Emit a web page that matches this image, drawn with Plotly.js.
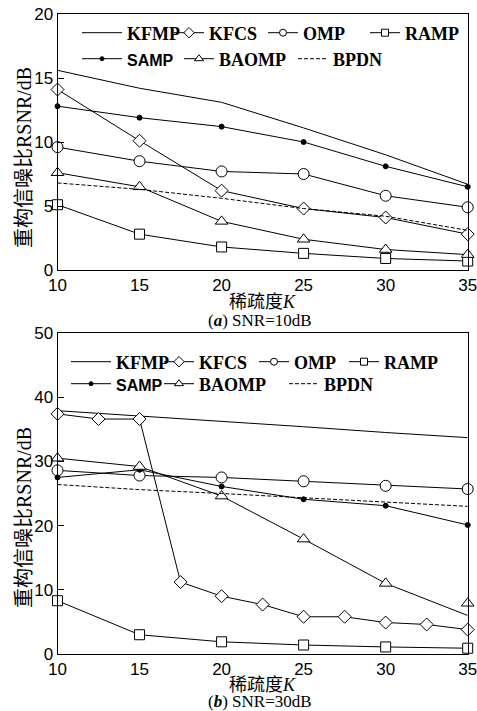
<!DOCTYPE html>
<html>
<head>
<meta charset="utf-8">
<script src="https://cdn.plot.ly/plotly-3.0.1.min.js"></script>
<style>html,body{margin:0;padding:0;background:#fff;}#chart{width:477px;height:711px;}</style>
</head>
<body>
<div id="chart"></div>
<script>
// ---- data ----
const K = [10, 15, 20, 25, 30, 35];
const K_fine = [10, 12.5, 15, 17.5, 20, 22.5, 25, 27.5, 30, 32.5, 35];

// (a) SNR=10dB
const a_KFMP  = [15.6, 14.2, 13.1, 11.1, 9.0, 6.7];
const a_KFCS  = [14.1, 10.1, 6.2, 4.8, 4.1, 2.8];
const a_OMP   = [9.6, 8.5, 7.7, 7.5, 5.8, 4.9];
const a_RAMP  = [5.1, 2.8, 1.8, 1.3, 0.9, 0.7];
const a_SAMP  = [12.8, 11.9, 11.2, 10.0, 8.1, 6.5];
const a_BAOMP = [7.6, 6.5, 3.8, 2.4, 1.6, 1.2];
const a_BPDN  = [6.8, 6.3, 5.6, 4.8, 4.2, 3.1];

// (b) SNR=30dB
const b_KFMP  = [37.9, 37.1, 36.2, 35.4, 34.5, 33.7];
const b_KFCS  = [37.4, 36.6, 36.6, 11.2, 9.0, 7.7, 5.8, 5.8, 4.9, 4.6, 3.8];
const b_OMP   = [28.6, 27.8, 27.5, 26.9, 26.2, 25.7];
const b_RAMP  = [8.3, 3.0, 1.9, 1.4, 1.1, 0.9];
const b_SAMP  = [27.5, 28.7, 26.1, 24.1, 23.1, 20.1];
const b_BAOMP_line   = [30.5, 29.2, 24.6, 17.9, 11.0, 6.0];
const b_BAOMP_marker = [30.5, 29.2, 24.6, 17.9, 11.0, 7.9];
const b_BPDN  = [26.4, 25.6, 25.0, 24.3, 23.6, 23.0];

const names = ['KFMP', 'KFCS', 'OMP', 'RAMP', 'SAMP', 'BAOMP', 'BPDN'];
const xTicks = [10, 15, 20, 25, 30, 35];
const yTicksA = [0, 5, 10, 15, 20];
const yTicksB = [0, 10, 20, 30, 40, 50];

// ---- styling ----
const BLK = '#000';
const LW = 1;
const SERIF = '"Liberation Serif", "Times New Roman", serif';
const SANS = '"Liberation Sans", Arial, sans-serif';
const CJK = '"Noto Sans CJK SC", sans-serif';

const symbols = {KFMP: null, KFCS: 'diamond', OMP: 'circle', RAMP: 'square', SAMP: 'circle', BAOMP: 'triangle-up', BPDN: null};
const sizes = {KFCS: 10, OMP: 11, RAMP: 10, SAMP: 5, BAOMP: 11};
const legSizes = {KFCS: 8, OMP: 7, RAMP: 7, SAMP: 4, BAOMP: 8};

function legName(n) {
  if (n === 'SAMP') return '<b><span style="font-family:' + "'Liberation Sans'" + ';font-size:16px">' + n + '</span></b>';
  return '<b>' + n + '</b>';
}

function tr(x, y, name, xa, ya, leg, extra, msize) {
  const sym = symbols[name];
  const t = {
    x: x, y: y, name: legName(name), type: 'scatter',
    xaxis: xa, yaxis: ya, legend: leg, cliponaxis: false,
    mode: sym ? 'lines+markers' : 'lines',
    line: {color: BLK, width: LW},
  };
  if (name === 'BPDN') t.line.dash = '4px,2px';
  if (sym) {
    const filled = name === 'SAMP';
    t.marker = {symbol: sym, size: msize || sizes[name], color: filled ? BLK : '#fff',
                line: {color: BLK, width: 1}};
  }
  return Object.assign(t, extra || {});
}

const traces = [];
function addSet(x, xfine, d, xa, ya, legs) {
  const noLeg = {showlegend: false};
  traces.push(tr(x, d.KFMP, 'KFMP', xa, ya, legs[0], noLeg));
  traces.push(tr(xfine, d.KFCS, 'KFCS', xa, ya, legs[1], noLeg));
  traces.push(tr(x, d.OMP, 'OMP', xa, ya, legs[2], noLeg));
  traces.push(tr(x, d.RAMP, 'RAMP', xa, ya, legs[3], noLeg));
  traces.push(tr(x, d.SAMP, 'SAMP', xa, ya, legs[4], noLeg));
  if (d.BAOMPm) {
    traces.push(tr(x, d.BAOMP, 'BAOMP', xa, ya, legs[5], {mode: 'lines', showlegend: false}));
    traces.push(tr(x, d.BAOMPm, 'BAOMP', xa, ya, legs[5], {mode: 'markers', showlegend: false}));
  } else {
    traces.push(tr(x, d.BAOMP, 'BAOMP', xa, ya, legs[5], noLeg));
  }
  traces.push(tr(x, d.BPDN, 'BPDN', xa, ya, legs[6], noLeg));
  // legend entries (smaller symbols, as in the reference legend)
  names.forEach((n, i) => {
    traces.push(tr([null], [null], n, xa, ya, legs[i], {showlegend: true}, legSizes[n]));
  });
}
const legsA = ['legend', 'legend2', 'legend3', 'legend4', 'legend5', 'legend6', 'legend7'];
const legsB = ['legend8', 'legend9', 'legend10', 'legend11', 'legend12', 'legend13', 'legend14'];
addSet(K, K, {KFMP: a_KFMP, KFCS: a_KFCS, OMP: a_OMP, RAMP: a_RAMP, SAMP: a_SAMP, BAOMP: a_BAOMP, BPDN: a_BPDN},
       'x', 'y', legsA);
addSet(K, K_fine, {KFMP: b_KFMP, KFCS: b_KFCS, OMP: b_OMP, RAMP: b_RAMP, SAMP: b_SAMP, BAOMP: b_BAOMP_line, BAOMPm: b_BAOMP_marker, BPDN: b_BPDN},
       'x2', 'y2', legsB);

const W = 477, H = 711;
const px = v => v / W;
const py = v => 1 - v / H;

const tickFont = {family: SANS, size: 17, color: BLK};
function xAxis(anchor) {
  return {domain: [px(57.5), px(467.7)], range: [10, 35], anchor: anchor,
    tickvals: xTicks, ticks: '', showgrid: false, zeroline: false,
    showline: true, mirror: true, linecolor: BLK, linewidth: 1,
    tickfont: tickFont, ticklabeloverflow: 'allow'};
}
function yAxis(anchor, dom, range, tv) {
  return {domain: dom, range: range, anchor: anchor, tickvals: tv,
    ticks: 'inside', ticklen: 6, tickcolor: BLK, showgrid: false, zeroline: false,
    showline: true, mirror: true, linecolor: BLK, linewidth: 1,
    tickfont: tickFont, ticklabeloverflow: 'allow'};
}

// legend entry placement: text start x (px), row centre y (px), itemwidth
const legPos = [
  [127, 33, 40], [209, 33, 30], [303, 33, 30], [405, 33, 30],
  [127, 59, 40], [219, 59, 30], [333, 59, 30],
  [116, 362, 40], [199, 362, 30], [294, 362, 30], [384, 362, 30],
  [116, 384, 40], [199, 384, 30], [324, 384, 30],
];
function legend(p) {
  return {orientation: 'h', x: px(p[0] - (p[2] + 10)), y: py(p[1]), xanchor: 'left', yanchor: 'middle',
    bgcolor: 'rgba(0,0,0,0)', borderwidth: 0, font: {family: SERIF, size: 18, color: BLK},
    itemwidth: p[2], itemsizing: 'trace'};
}

const ytitle = '重构信噪比<span style="font-family:' + "'Liberation Serif'" + '">RSNR/dB</span>';
const xtitle = '稀疏度<span style="font-family:' + "'Liberation Serif'" + '"><i>K</i></span>';

function ann(text, x, y, size, fam, rot) {
  return {text: text, xref: 'paper', yref: 'paper', x: px(x), y: py(y),
    xanchor: 'center', yanchor: 'middle', showarrow: false, textangle: rot || 0,
    font: {family: fam, size: size, color: BLK}};
}

const layout = {
  width: W, height: H, margin: {l: 0, r: 0, t: 0, b: 0},
  paper_bgcolor: '#fff', plot_bgcolor: '#fff', showlegend: true,
  xaxis: xAxis('y'),
  yaxis: yAxis('x', [py(270), py(14)], [0, 20], yTicksA),
  xaxis2: xAxis('y2'),
  yaxis2: yAxis('x2', [py(654), py(333)], [0, 50], yTicksB),
  annotations: [
    ann(ytitle, 22, 158, 20, CJK, -90),
    ann(ytitle, 22, 518, 20, CJK, -90),
    ann(xtitle, 262, 300, 18, CJK),
    ann(xtitle, 262, 683, 18, CJK),
    ann('(<b><i>a</i></b>) SNR=10dB', 260, 320, 17, SERIF),
    ann('(<b><i>b</i></b>) SNR=30dB', 260, 701, 17, SERIF),
  ],
};
const allLegs = legsA.concat(legsB);
allLegs.forEach((name, i) => { layout[name] = legend(legPos[i]); });

Plotly.newPlot('chart', traces, layout, {staticPlot: true, displayModeBar: false});
</script>
</body>
</html>
